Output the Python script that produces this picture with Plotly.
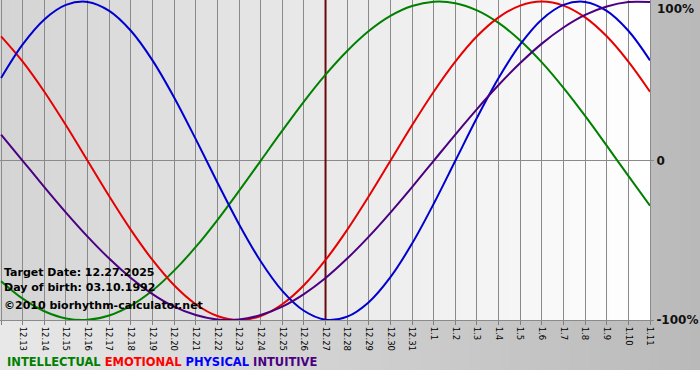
import plotly.graph_objects as go

# ---------------- data ----------------
dates = ["12.12", "12.13", "12.14", "12.15", "12.16", "12.17", "12.18", "12.19", "12.20",
         "12.21", "12.22", "12.23", "12.24", "12.25", "12.26", "12.27", "12.28", "12.29",
         "12.30", "12.31", "1.1", "1.2", "1.3", "1.4", "1.5", "1.6", "1.7", "1.8", "1.9",
         "1.10", "1.11"]

intellectual = [-0.756, -0.866, -0.945, -0.990, -0.999, -0.972, -0.910, -0.815, -0.690,
                -0.541, -0.372, -0.189, 0.0, 0.189, 0.372, 0.541, 0.690, 0.815, 0.910,
                0.972, 0.999, 0.990, 0.945, 0.866, 0.756, 0.618, 0.458, 0.282, 0.095,
                -0.095, -0.282]
emotional = [0.782, 0.623, 0.434, 0.223, 0.0, -0.223, -0.434, -0.623, -0.782, -0.901,
             -0.975, -1.0, -0.975, -0.901, -0.782, -0.623, -0.434, -0.223, 0.0, 0.223,
             0.434, 0.623, 0.782, 0.901, 0.975, 1.0, 0.975, 0.901, 0.782, 0.623, 0.434]
physical = [0.520, 0.731, 0.888, 0.979, 0.998, 0.942, 0.817, 0.631, 0.398, 0.136,
            -0.136, -0.398, -0.631, -0.817, -0.942, -0.998, -0.979, -0.888, -0.731,
            -0.520, -0.270, 0.0, 0.270, 0.520, 0.731, 0.888, 0.979, 0.998, 0.942, 0.817,
            0.631]
intuitive = [0.165, 0.0, -0.165, -0.325, -0.476, -0.614, -0.736, -0.837, -0.916, -0.969,
             -0.997, -0.997, -0.969, -0.916, -0.837, -0.736, -0.614, -0.476, -0.325,
             -0.165, 0.0, 0.165, 0.325, 0.476, 0.614, 0.736, 0.837, 0.916, 0.969, 0.997,
             0.997]

series_names = ["INTELLECTUAL", "EMOTIONAL", "PHYSICAL", "INTUITIVE"]
target_date = "12.27"
info_lines = ["Target Date: 12.27.2025", "Day of birth: 03.10.1992",
              "\u00a92010 biorhythm-calculator.net"]
y_range = [-1.0, 1.01]
y_tick_vals = [-1, 0]
y_tick_text = ["-100%", "0"]
top_label = "100%"

# ---------------- style ----------------
colors = ["#008000", "#e60000", "#0000d0", "#4b0082"]
legend_colors = ["#008000", "#ff0000", "#0000ff", "#4b0082"]
FONT = "DejaVu Sans"
W, H = 700, 380
ML, MR, MT, MB = 0, 50, 0, 60
PW, PH = W - ML - MR, H - MT - MB

x = list(range(len(dates)))


def px_x(p):
    return (p - ML) / PW


def px_y(p):
    return (PH - (p - MT)) / PH


def lerp_hex(c1, c2, t):
    a = [int(c1[i:i + 2], 16) for i in (1, 3, 5)]
    b = [int(c2[i:i + 2], 16) for i in (1, 3, 5)]
    return "#" + "".join(f"{round(a[i] + (b[i] - a[i]) * t):02x}" for i in range(3))


shapes = []
# outer gradient (light left -> darker right), ends 10px above bottom
n = 70
for k in range(n):
    x0 = k * W / n
    x1 = (k + 1) * W / n + 0.6
    shapes.append(dict(type="rect", xref="paper", yref="paper",
                       x0=px_x(x0), x1=px_x(x1), y0=px_y(370), y1=px_y(0),
                       fillcolor=lerp_hex("#e8e8e8", "#b9b9b9", (k + 0.5) / n),
                       line=dict(width=0), layer="below"))
# plot-area gradient (grey left -> white right)
n2 = 65
for k in range(n2):
    x0 = ML + k * PW / n2
    x1 = ML + (k + 1) * PW / n2 + 0.6
    shapes.append(dict(type="rect", xref="paper", yref="paper",
                       x0=px_x(x0), x1=min(px_x(x1), 1.0), y0=0, y1=1,
                       fillcolor=lerp_hex("#d4d4d4", "#ffffff", (k + 0.5) / n2),
                       line=dict(width=0), layer="below"))

fig = go.Figure()
# target date marker line (drawn as a trace so it sits above the grid, below curves)
ti = dates.index(target_date)
fig.add_trace(go.Scatter(x=[ti, ti], y=y_range, mode="lines",
                         line=dict(color="#6a0a0a", width=2), hoverinfo="skip",
                         showlegend=False))
for name, vals, col in zip(series_names, [intellectual, emotional, physical, intuitive], colors):
    fig.add_trace(go.Scatter(x=x, y=vals, mode="lines", name=name,
                             line=dict(color=col, width=2, shape="spline", smoothing=1.0),
                             hoverinfo="skip"))

annotations = []
for txt, cy in zip(info_lines, [272, 287, 305]):
    annotations.append(dict(text=txt, xref="paper", yref="paper", x=px_x(2), y=px_y(cy),
                            xanchor="left", yanchor="middle", showarrow=False,
                            font=dict(family=FONT, size=11, color="#000000", weight="bold")))
legend_html = " ".join(f"<span style='color:{c}'>{n_}</span>"
                       for n_, c in zip(series_names, legend_colors))
annotations.append(dict(text=legend_html, xref="paper", yref="paper", x=px_x(5), y=px_y(362),
                        xanchor="left", yanchor="middle", showarrow=False,
                        font=dict(family=FONT, size=11.5, weight="bold")))
annotations.append(dict(text=top_label, xref="paper", yref="paper", x=px_x(655), y=1.0,
                        xanchor="left", yanchor="top", showarrow=False,
                        font=dict(family=FONT, size=12, color="#111111", weight="bold")))

fig.update_layout(
    width=W, height=H,
    margin=dict(l=ML, r=MR, t=MT, b=MB, pad=0, autoexpand=False),
    paper_bgcolor="#ffffff",
    plot_bgcolor="rgba(0,0,0,0)",
    showlegend=False,
    shapes=shapes,
    annotations=annotations,
    xaxis=dict(range=[-0.05, len(dates) - 1], tickmode="array", tickvals=x, ticktext=dates,
               tickangle=90, ticks="outside", ticklen=4, tickcolor="#808080",
               showgrid=True, gridcolor="#8a8a8a", gridwidth=1, zeroline=False,
               showline=True, linecolor="#8a8a8a", linewidth=1, automargin=False,
               tickfont=dict(family=FONT, size=8.5, color="#000000"), fixedrange=True),
    yaxis=dict(range=y_range, side="right", tickmode="array", tickvals=y_tick_vals,
               ticktext=y_tick_text, ticks="outside", ticklen=3, tickcolor="#8a8a8a",
               showgrid=True, gridcolor="#8a8a8a", gridwidth=1, zeroline=False,
               showline=True, linecolor="#8a8a8a", linewidth=1, automargin=False,
               tickfont=dict(family=FONT, size=12, color="#111111", weight="bold"),
               fixedrange=True),
)

fig.write_html("out.html", config={"displayModeBar": False},
               post_script="document.body.style.margin='0px';document.body.style.overflow='hidden';")
